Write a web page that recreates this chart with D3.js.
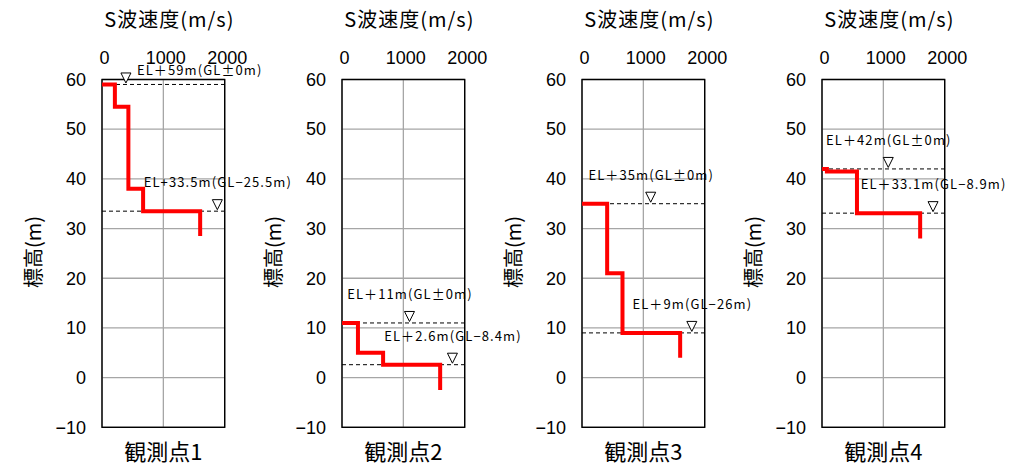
<!DOCTYPE html>
<html>
<head>
<meta charset="utf-8">
<script src="https://cdn.jsdelivr.net/npm/d3@7"></script>
<style>
  html, body { margin: 0; padding: 0; background: #fff; }
  svg { display: block; }
</style>
</head>
<body>
<svg id="chart" width="1018" height="465"></svg>
<script>
// Observation sites
const sites = ["観測点1", "観測点2", "観測点3", "観測点4"];

// Layer boundaries (elevation, m) and S-wave velocity of each layer (m/s)
const layerElev1 = [59, 54.5, 38, 33.5, 28.5];
const layerVs1   = [210, 430, 670, 1600];
const layerElev2 = [11, 5, 2.6, -2.5];
const layerVs2   = [260, 670, 1600];
const layerElev3 = [35, 21, 9, 4];
const layerVs3   = [410, 660, 1600];
const layerElev4 = [42, 41.5, 33.1, 28];
const layerVs4   = [80, 570, 1600];

// Reference levels: ground surface and base of the profile
const markElev1 = [59, 33.5];
const markElev2 = [11, 2.6];
const markElev3 = [35, 9];
const markElev4 = [42, 33.1];
const markText1 = ["EL＋59m(GL±0m)", "EL+33.5m(GL−25.5m)"];
const markText2 = ["EL＋11m(GL±0m)", "EL＋2.6m(GL−8.4m)"];
const markText3 = ["EL＋35m(GL±0m)", "EL＋9m(GL−26m)"];
const markText4 = ["EL＋42m(GL±0m)", "EL＋33.1m(GL−8.9m)"];
// Velocity at which each ▽ marker sits
const markVs1 = [390, 1880];
const markVs2 = [1100, 1800];
const markVs3 = [1120, 1790];
const markVs4 = [1080, 1810];

// Axis ticks
const xTicks = [0, 1000, 2000];
const yTicks = [-10, 0, 10, 20, 30, 40, 50, 60];

const panels = [
  { elev: layerElev1, vs: layerVs1, mElev: markElev1, mText: markText1, mVs: markVs1 },
  { elev: layerElev2, vs: layerVs2, mElev: markElev2, mText: markText2, mVs: markVs2 },
  { elev: layerElev3, vs: layerVs3, mElev: markElev3, mText: markText3, mVs: markVs3 },
  { elev: layerElev4, vs: layerVs4, mElev: markElev4, mText: markText4, mVs: markVs4 }
];

const svg = d3.select("#chart");
const latin = "'Liberation Sans', Arial, sans-serif";
const cjk = "'Noto Sans CJK JP', 'Liberation Sans', sans-serif";
const tickFmt = d => (d < 0 ? "\u2212" + Math.abs(d) : String(d));

const plotW = 122.7, plotTop = 79.5, plotBottom = 427.3, panelStep = 240, firstLeft = 102;

panels.forEach((p, i) => {
  const left = firstLeft + i * panelStep;
  const x = d3.scaleLinear().domain([0, 2000]).range([left, left + plotW]);
  const y = d3.scaleLinear().domain([-10, 60]).range([plotBottom, plotTop]);
  const g = svg.append("g");
  const cx = left + plotW / 2;

  // grid
  g.selectAll(".gy").data(yTicks).join("line")
    .attr("x1", x(0)).attr("x2", x(2000))
    .attr("y1", d => y(d)).attr("y2", d => y(d))
    .attr("stroke", "#a6a6a6").attr("stroke-width", 1.3);
  g.selectAll(".gx").data(xTicks).join("line")
    .attr("x1", d => x(d)).attr("x2", d => x(d))
    .attr("y1", y(60)).attr("y2", y(-10))
    .attr("stroke", "#a6a6a6").attr("stroke-width", 1.3);

  // axes (labels only)
  const ax = g.append("g").attr("transform", `translate(2,${plotTop - 16})`)
    .call(d3.axisTop(x).tickValues(xTicks).tickFormat(tickFmt).tickSize(0).tickPadding(0));
  const ay = g.append("g").attr("transform", `translate(${left - 16},0)`)
    .call(d3.axisLeft(y).tickValues(yTicks).tickFormat(tickFmt).tickSize(0).tickPadding(0));
  [ax, ay].forEach(a => {
    a.select(".domain").remove();
    a.selectAll("text").attr("font-family", latin).attr("font-size", 18).attr("fill", "#000");
  });

  // frame
  g.append("rect")
    .attr("x", x(0)).attr("y", y(60))
    .attr("width", x(2000) - x(0)).attr("height", y(-10) - y(60))
    .attr("fill", "none").attr("stroke", "#000").attr("stroke-width", 1.4);

  // reference levels (dashed)
  g.selectAll(".ref").data(p.mElev).join("line")
    .attr("x1", x(0)).attr("x2", x(2000))
    .attr("y1", d => y(d)).attr("y2", d => y(d))
    .attr("stroke", "#000").attr("stroke-width", 1).attr("stroke-dasharray", "4,3");

  // Vs step profile
  const pts = [[0, p.elev[0]]];
  p.vs.forEach((v, k) => {
    pts.push([v, p.elev[k]]);
    pts.push([v, p.elev[k + 1]]);
  });
  g.append("path")
    .attr("d", d3.line().x(d => x(d[0])).y(d => y(d[1]))(pts))
    .attr("fill", "none").attr("stroke", "#ff0000").attr("stroke-width", 4)
    .attr("stroke-linejoin", "miter");

  // ▽ markers with level labels
  p.mElev.forEach((e, k) => {
    const mx = x(p.mVs[k]), my = y(e);
    g.append("path")
      .attr("d", `M${mx - 5},${my - 11.5}L${mx + 5},${my - 11.5}L${mx},${my - 1.5}Z`)
      .attr("fill", "#fff").attr("stroke", "#000").attr("stroke-width", 1);
    const above = my - 24;
    const t = g.append("text")
      .attr("font-family", cjk).attr("font-size", 13).attr("fill", "#000")
      .attr("letter-spacing", 1.1)
      .text(p.mText[k]);
    if (above < plotTop) {
      t.attr("x", mx + 11).attr("y", my - 9).attr("text-anchor", "start");
    } else {
      t.attr("x", mx + 0.5).attr("y", above).attr("text-anchor", "middle");
    }
  });

  // axis titles
  g.append("text")
    .attr("x", cx + 6).attr("y", 27).attr("text-anchor", "middle")
    .attr("font-family", cjk).attr("font-size", 20).attr("fill", "#000")
    .attr("letter-spacing", 1)
    .text("S波速度(m/s)");
  g.append("text")
    .attr("transform", `translate(${left - 70},252) rotate(-90)`)
    .attr("text-anchor", "middle").attr("dominant-baseline", "central")
    .attr("font-family", cjk).attr("font-size", 20).attr("fill", "#000")
    .text("標高(m)");
  g.append("text")
    .attr("x", cx).attr("y", 460).attr("text-anchor", "middle")
    .attr("font-family", cjk).attr("font-size", 22).attr("fill", "#000")
    .text(sites[i]);
});
</script>
</body>
</html>
